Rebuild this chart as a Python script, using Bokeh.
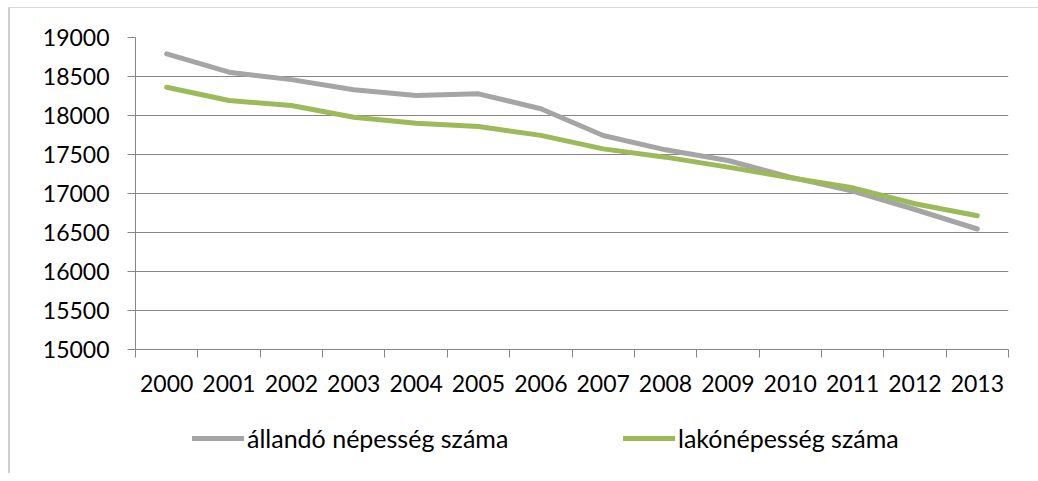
from bokeh.plotting import figure
from bokeh.layouts import column
from bokeh.models import FixedTicker, Legend, LegendItem, Range1d
from bokeh.embed import file_html
from bokeh.resources import INLINE

years = ["2000", "2001", "2002", "2003", "2004", "2005", "2006",
         "2007", "2008", "2009", "2010", "2011", "2012", "2013"]
allando = [18790, 18555, 18460, 18330, 18256, 18278, 18086,
           17744, 17560, 17423, 17210, 17030, 16795, 16545]
lako = [18363, 18192, 18128, 17978, 17901, 17859, 17745,
        17572, 17466, 17338, 17201, 17073, 16868, 16714]
y_ticks = [15000, 15500, 16000, 16500, 17000, 17500, 18000, 18500, 19000]
series_names = ["állandó népesség száma", "lakónépesség száma"]
series_colors = ["#a5a5a5", "#9bbb59"]

FONT = "Lato"
AXIS_COLOR = "#868686"

x = list(range(len(years)))
boundaries = [i - 0.5 for i in range(len(years) + 1)]
series = [allando, lako]

p = figure(width=1028, height=400, frame_width=873, frame_height=312,
           output_backend="svg", toolbar_location=None,
           x_range=Range1d(-0.5, len(years) - 0.5),
           y_range=Range1d(y_ticks[0], y_ticks[-1]),
           min_border_left=125, min_border_right=30,
           min_border_top=29, min_border_bottom=59)
p.outline_line_color = None
p.background_fill_color = "white"
p.border_fill_color = "white"

# grid
p.xgrid.visible = False
p.ygrid.ticker = FixedTicker(ticks=y_ticks)
p.ygrid.grid_line_color = AXIS_COLOR
p.ygrid.grid_line_width = 1

# x axis
xa = p.xaxis[0]
xa.ticker = FixedTicker(ticks=x, minor_ticks=boundaries)
xa.major_label_overrides = {i: yr for i, yr in zip(x, years)}
xa.major_tick_out = 0
xa.major_tick_in = 0
xa.minor_tick_out = 8
xa.minor_tick_in = 0
xa.minor_tick_line_color = AXIS_COLOR
xa.axis_line_color = AXIS_COLOR
xa.major_label_standoff = 17
xa.major_label_text_font = FONT
xa.major_label_text_font_size = "23px"
xa.major_label_text_color = "black"

# y axis
ya = p.yaxis[0]
ya.ticker = FixedTicker(ticks=y_ticks)
ya.major_tick_out = 8
ya.major_tick_in = 0
ya.minor_tick_out = 0
ya.minor_tick_in = 0
ya.major_tick_line_color = AXIS_COLOR
ya.axis_line_color = AXIS_COLOR
ya.major_label_standoff = 18
ya.major_label_text_font = FONT
ya.major_label_text_font_size = "23px"
ya.major_label_text_color = "black"

for s, c in zip(series, series_colors):
    p.line(x, s, line_color=c, line_width=5, line_cap="round", line_join="round")

# legend strip below the chart (its frame is aligned with the chart frame)
p2 = figure(width=1028, height=65, output_backend="svg", toolbar_location=None,
            x_range=Range1d(0, 1), y_range=Range1d(0, 1),
            min_border_left=0, min_border_right=0,
            min_border_top=0, min_border_bottom=0)
p2.axis.visible = False
p2.grid.visible = False
p2.outline_line_color = None
p2.background_fill_color = "white"
p2.border_fill_color = "white"
# same series, out of this strip's view: used only for the legend swatches
lr = [p2.line(x, s, line_color=c, line_width=5, line_cap="round")
      for s, c in zip(series, series_colors)]

legend = Legend(items=[LegendItem(label=n, renderers=[r])
                       for n, r in zip(series_names, lr)],
                orientation="horizontal", location=(57, 20),
                glyph_width=52, glyph_height=30, label_standoff=3,
                label_width=273, spacing=103, padding=0, margin=0,
                border_line_color=None, background_fill_alpha=0,
                label_text_font=FONT, label_text_font_size="25px",
                label_text_color="black")
p2.add_layout(legend, "center")

layout = column(p, p2, spacing=0)
layout.styles = {"border-left": "2px solid #cfcfcf", "border-top": "1px solid #d9d9d9",
                 "margin-left": "8px", "margin-top": "7px", "background": "white"}

open("out.html", "w").write(file_html(layout, INLINE))
